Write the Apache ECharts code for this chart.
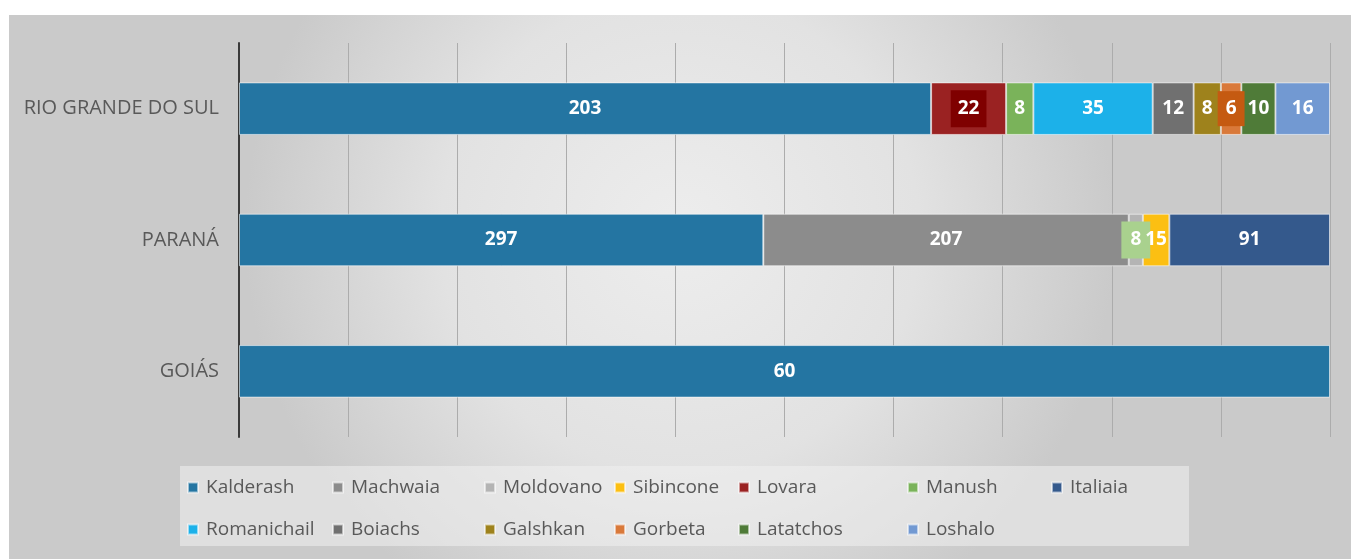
<!DOCTYPE html>
<html>
<head>
    <meta charset="utf-8">
    <title></title>
    <style type="text/css">
        html,
        body {
            height: 100%;
        }

        body {
            margin: 0;
            padding: 0;
            background: #fff;
        }

        #main {
            width: 1351px;
            height: 559px;
        }
    </style>
</head>

<body>
    <div id="main"></div>
    <script src="https://cdn.jsdelivr.net/npm/echarts@6/dist/echarts.min.js"></script>
    <script type="text/javascript">
        // categories, bottom to top
        var categories = ['GOIÁS', 'PARANÁ', 'RIO GRANDE DO SUL'];

        // counts per group, same order as categories
        var kalderash = [60, 297, 203];
        var machwaia = [0, 207, 0];
        var moldovano = [0, 8, 0];
        var sibincone = [0, 15, 0];
        var lovara = [0, 0, 22];
        var manush = [0, 0, 8];
        var italiaia = [0, 91, 0];
        var romanichail = [0, 0, 35];
        var boiachs = [0, 0, 12];
        var galshkan = [0, 0, 8];
        var gorbeta = [0, 0, 6];
        var latatchos = [0, 0, 10];
        var loshalo = [0, 0, 16];

        var groups = [
            { name: 'Kalderash', data: kalderash, color: '#2475a2' },
            { name: 'Machwaia', data: machwaia, color: '#8c8c8c' },
            { name: 'Moldovano', data: moldovano, color: '#b4b4b4', labelBg: '#a9d18e', pad: [9, 9] },
            { name: 'Sibincone', data: sibincone, color: '#fcbf12' },
            { name: 'Lovara', data: lovara, color: '#9a2222', labelBg: '#7f0000', pad: [9, 7] },
            { name: 'Manush', data: manush, color: '#7ab35a' },
            { name: 'Italiaia', data: italiaia, color: '#34598c' },
            { name: 'Romanichail', data: romanichail, color: '#1cb1e9' },
            { name: 'Boiachs', data: boiachs, color: '#707070' },
            { name: 'Galshkan', data: galshkan, color: '#9e821c' },
            { name: 'Gorbeta', data: gorbeta, color: '#d9793a', labelBg: '#c55a11', pad: [8, 8] },
            { name: 'Latatchos', data: latatchos, color: '#4f7b38' },
            { name: 'Loshalo', data: loshalo, color: '#7299d2' }
        ];

        // totals per category for the 100% stack
        var totals = categories.map(function (c, i) {
            var s = 0;
            groups.forEach(function (g) { s += g.data[i]; });
            return s;
        });

        var series = groups.map(function (g) {
            var label = {
                show: true,
                position: 'inside',
                color: '#fff',
                fontFamily: 'Open Sans',
                fontWeight: 'bold',
                fontSize: 19,
                formatter: function (p) { return g.data[p.dataIndex]; }
            };
            if (g.labelBg) {
                label.backgroundColor = g.labelBg;
                label.padding = g.pad;
            }
            return {
                name: g.name,
                type: 'bar',
                stack: 'total',
                barCategoryGap: '60%',
                itemStyle: {
                    color: g.color,
                    borderColor: 'rgba(255,255,255,0.55)',
                    borderWidth: 1
                },
                label: label,
                data: g.data.map(function (v, i) {
                    return v ? v / totals[i] * 100 : '-';
                })
            };
        });

        // legend laid out as columns like the original
        var colX = [187, 332, 484, 614, 738, 907, 1051];
        var legends = [];
        for (var c = 0; c < 7; c++) {
            var names = [groups[c].name];
            if (groups[c + 7]) names.push(groups[c + 7].name);
            legends.push({
                data: names,
                orient: 'vertical',
                left: colX[c],
                top: 478,
                itemGap: 23,
                itemWidth: 10,
                itemHeight: 10,
                icon: 'rect',
                padding: 0,
                textStyle: {
                    color: '#595959',
                    fontFamily: 'Open Sans',
                    fontSize: 19,
                    padding: [0, 0, 0, 3]
                }
            });
        }

        var myChart = echarts.init(document.getElementById('main'));
        myChart.setOption({
            backgroundColor: '#fff',
            animation: false,
            graphic: [{
                type: 'rect',
                z: -10,
                shape: { x: 9, y: 15, width: 1342, height: 544 },
                style: {
                    fill: new echarts.graphic.RadialGradient(0.5, 0.4, 0.8, [
                        { offset: 0, color: '#ededed' },
                        { offset: 0.55, color: '#e2e2e2' },
                        { offset: 1, color: '#cacaca' }
                    ])
                },
                silent: true
            }, {
                type: 'rect',
                z: -9,
                shape: { x: 180, y: 466, width: 1009, height: 80 },
                style: { fill: 'rgba(240,240,240,0.55)' },
                silent: true
            }],
            legend: legends,
            grid: {
                left: 239,
                right: 21,
                top: 43,
                bottom: 122,
                containLabel: false
            },
            xAxis: {
                type: 'value',
                min: 0,
                max: 100,
                interval: 10,
                axisLabel: { show: false },
                axisLine: { show: false },
                axisTick: { show: false },
                splitLine: { lineStyle: { color: '#acacac', width: 1 } }
            },
            yAxis: {
                type: 'category',
                data: categories,
                axisTick: { show: false },
                axisLine: { lineStyle: { color: '#3a3a3a', width: 2 } },
                axisLabel: {
                    color: '#595959',
                    fontFamily: 'Open Sans',
                    fontSize: 20,
                    margin: 20
                }
            },
            series: series
        });
    </script>
</body>

</html>
